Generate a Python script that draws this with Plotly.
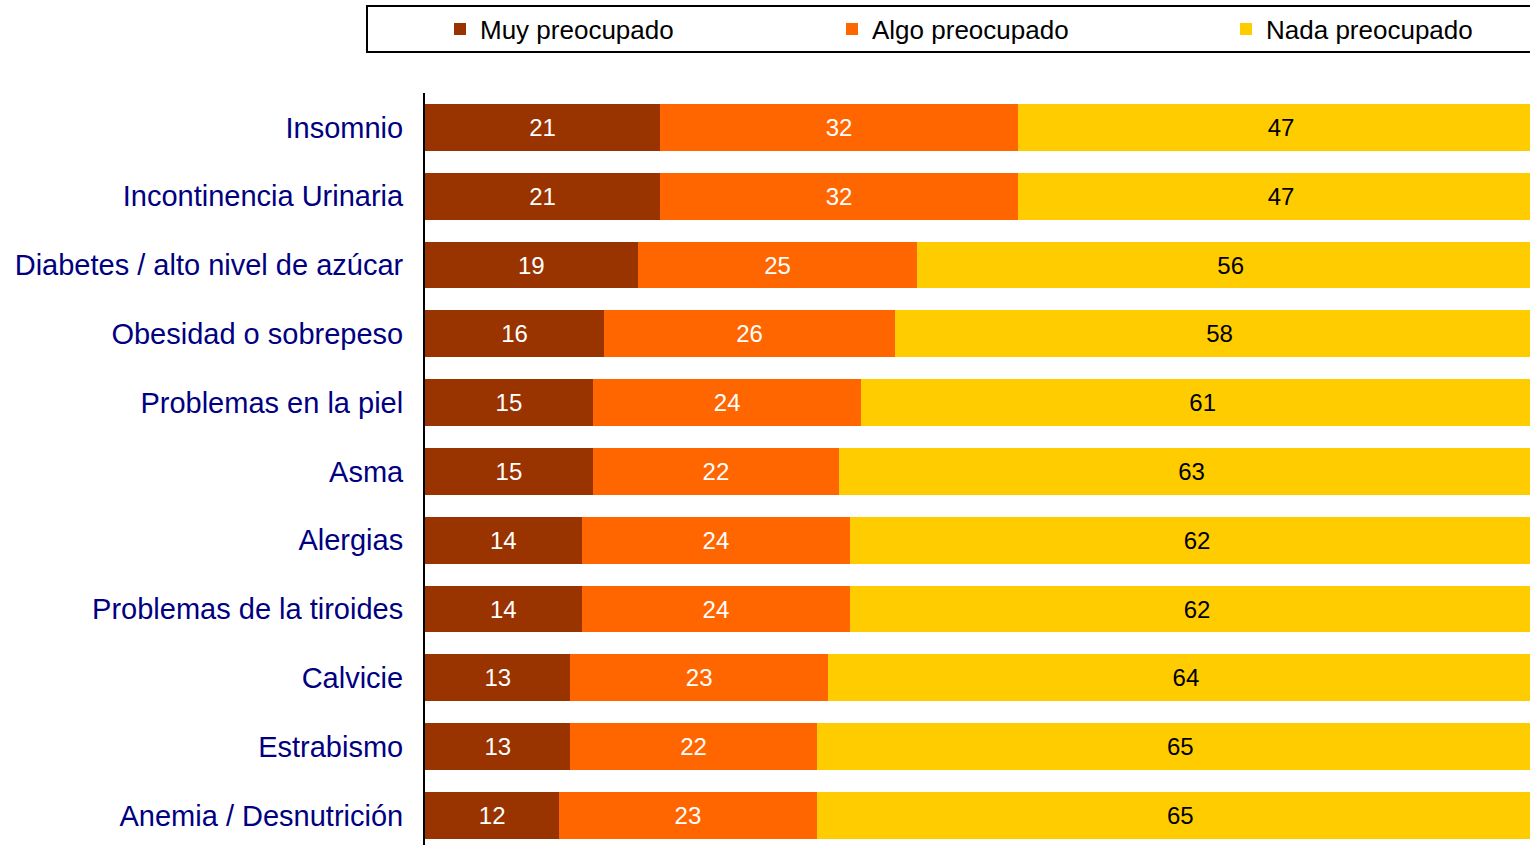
import plotly.graph_objects as go

categories = ["Insomnio", "Incontinencia Urinaria", "Diabetes / alto nivel de azúcar",
              "Obesidad o sobrepeso", "Problemas en la piel", "Asma", "Alergias",
              "Problemas de la tiroides", "Calvicie", "Estrabismo", "Anemia / Desnutrición"]
muy = [21, 21, 19, 16, 15, 15, 14, 14, 13, 13, 12]
algo = [32, 32, 25, 26, 24, 22, 24, 24, 23, 22, 23]
nada = [47, 47, 56, 58, 61, 63, 62, 62, 64, 65, 65]

series = [
    ("Muy preocupado", muy, "#993300", "white", "legend", 440),
    ("Algo preocupado", algo, "#FF6600", "white", "legend2", 832),
    ("Nada preocupado", nada, "#FFCC00", "black", "legend3", 1226),
]

FONT = "Liberation Sans, Arial, sans-serif"

W, H = 1530, 845
L, R, T, B = 425, 0, 93, 0
pw, ph = W - L - R, H - T - B


def px_x(p):
    return (p - L) / pw


def px_y(p):
    return 1 - (p - T) / ph


fig = go.Figure()
legends = {}
for name, vals, color, tcolor, leg, lx in series:
    fig.add_trace(go.Bar(
        y=categories, x=vals, name=name, orientation="h",
        marker=dict(color=color, line=dict(width=0)),
        text=vals, texttemplate="%{x}", textposition="inside",
        insidetextanchor="middle",
        textfont=dict(family=FONT, size=24, color=tcolor),
        hoverinfo="skip", legend=leg, cliponaxis=True,
    ))
    legends[leg] = dict(
        orientation="h", x=px_x(lx), y=px_y(29), xanchor="left", yanchor="middle",
        font=dict(family=FONT, size=26, color="black"),
        bgcolor="rgba(0,0,0,0)", borderwidth=0,
    )

fig.update_layout(
    width=W, height=H,
    barmode="stack", bargap=0.32,
    margin=dict(l=L, r=R, t=T, b=B, pad=0),
    paper_bgcolor="white", plot_bgcolor="white",
    font=dict(family=FONT),
    showlegend=True,
    xaxis=dict(range=[0, 98.75], showgrid=False, showticklabels=False, zeroline=False,
               showline=False, fixedrange=True),
    yaxis=dict(categoryorder="array", categoryarray=categories,
               range=[10.43, -0.5], showgrid=False, zeroline=False,
               showline=True, linecolor="black", linewidth=2,
               ticks="", ticklabelstandoff=14,
               tickfont=dict(family=FONT, size=29, color="#000080"), fixedrange=True),
    shapes=[dict(type="rect", xref="paper", yref="paper",
                 x0=px_x(367), x1=px_x(1545), y0=px_y(6), y1=px_y(52),
                 line=dict(color="black", width=2), fillcolor="rgba(0,0,0,0)")],
    **legends,
)

fig.write_html("out.html", config={"displayModeBar": False},
               post_script="document.body.style.margin='0';document.body.style.overflow='hidden';")
